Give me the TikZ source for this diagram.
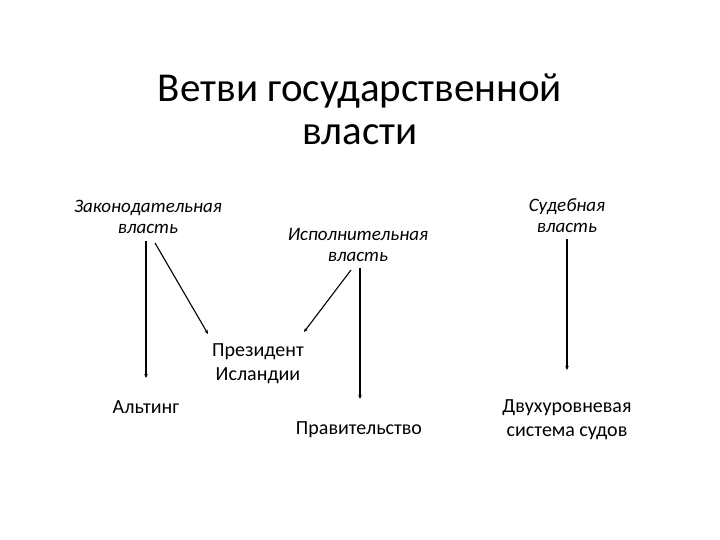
\documentclass[tikz,border=0pt]{standalone}
\usepackage{fontspec}
\setmainfont{Carlito}
\usepackage{tikz}
\usetikzlibrary{arrows.meta, positioning}

\begin{document}
\begin{tikzpicture}[
    x=1pt, y=-1pt,
    every node/.style={align=center, inner sep=0pt},
    branch/.style={font=\fontsize{19}{21}\selectfont\itshape},
    organ/.style={font=\fontsize{20}{24}\selectfont},
    link/.style={line width=1.1pt, -{Stealth[length=4pt, width=3.5pt]}}
]
\useasboundingbox (0,0) rectangle (720,540);
% title
\node[font=\fontsize{41}{43}\selectfont] (title) at (360,109) {Ветви государственной\\власти};
% branches
\node[branch] (leg) at (148,217) {Законодательная\\власть};
\node[branch] (exe) at (358,245) {Исполнительная\\власть};
\node[branch] (jud) at (567,216) {Судебная\\власть};
% organs
\node[organ] (pres) at (258,364) {Президент\\Исландии};
\node[organ] (alt) at (146,407) {Альтинг};
\node[organ] (gov) at (359,430) {Правительство};
\node[organ] (court) at (567,420) {Двухуровневая\\система судов};
% connectors
\coordinate (altin) at (146,378);
\coordinate (presl) at (208,334);
\coordinate (presr) at (304,332);
\coordinate (govin) at (360,399);
\coordinate (courtin) at (567,370);
\draw[link] (leg.south -| altin) ++(0,7) -- (altin);
\draw[link] (155,243) -- (presl);
\draw[link] (351,270) -- (presr);
\draw[link] (exe.south -| govin) ++(0,6) -- (govin);
\draw[link] (jud.south -| courtin) ++(0,6) -- (courtin);
\end{tikzpicture}
\end{document}
